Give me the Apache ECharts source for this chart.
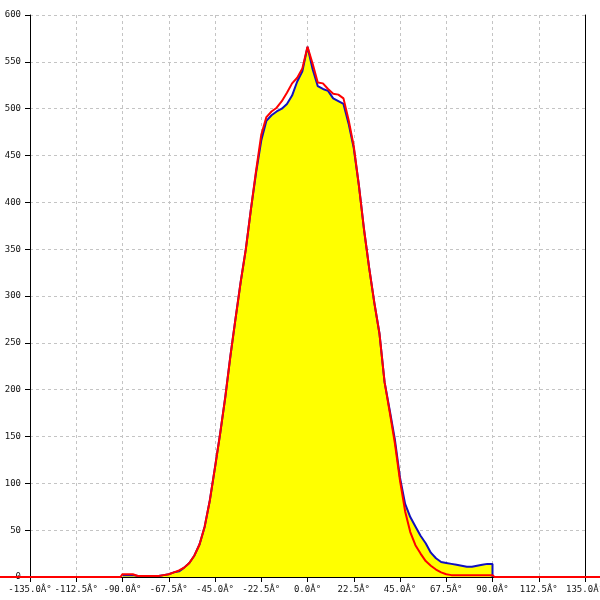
<!DOCTYPE html>
<html><head><meta charset="utf-8">
<script src="https://cdn.jsdelivr.net/npm/echarts@6/dist/echarts.min.js"></script>
<style>html,body{margin:0;padding:0;background:#fff}#c{width:600px;height:600px}</style>
</head><body><div id="c"></div>
<script>
// x ticks (degrees) and their labels as printed in the original (mojibake kept)
const xTickLabels = ['-135.0Â°','-112.5Â°','-90.0Â°','-67.5Â°','-45.0Â°','-22.5Â°','0.0Â°','22.5Â°','45.0Â°','67.5Â°','90.0Â°','112.5Â°','135.0Â°'];
const xTickValues = [-135,-112.5,-90,-67.5,-45,-22.5,0,22.5,45,67.5,90,112.5,135];

// blue measured curve (filled yellow underneath)
const blueAngles = [-90,-87.5,-85,-82.5,-80,-77.5,-75,-72.5,-70,-67.5,-65,-62.5,-60,-57.5,-55,-52.5,-50,-47.5,-45,-42.5,-40,-37.5,-35,-32.5,-30,-27.5,-25,-22.5,-20,-17.5,-15,-12.5,-10,-7.5,-5,-2.5,0,2.5,5,7.5,10,12.5,15,17.5,20,22.5,25,27.5,30,32.5,35,37.5,40,42.5,45,47.5,50,52.5,55,57.5,60,62.5,65,67.5,70,72.5,75,77.5,80,82.5,85,87.5,90,90];
const blueValues = [2,2,2,1,1,1,1,1,2,3,5,6,10,15,23,35,54,82,117,153,192,236,276,315,350,393,432,466,487,493,497,500,505,514,529,540,566,542,524,521,519,511,508,505,484,458,418,371,330,293,260,208,178,147,106,78,64,54,44,36,26,20,16,15,14,13,12,11,11,12,13,14,14,0];

// red reference curve (runs along 0 across the whole picture)
const redAngles = [-150,-91,-90,-87.5,-85,-82.5,-80,-77.5,-75,-72.5,-70,-67.5,-65,-62.5,-60,-57.5,-55,-52.5,-50,-47.5,-45,-42.5,-40,-37.5,-35,-32.5,-30,-27.5,-25,-22.5,-20,-17.5,-15,-12.5,-10,-7.5,-5,-2.5,0,2.5,5,7.5,10,12.5,15,17.5,20,22.5,25,27.5,30,32.5,35,37.5,40,42.5,45,47.5,50,52.5,55,57.5,60,62.5,65,67.5,70,72.5,75,77.5,80,82.5,85,87.5,90,91,150];
const redValues = [0,0,3,3,3,1,1,1,1,1,2,3,5,7,10,15,23,35,54,82,117,153,192,236,276,315,350,393,434,472,491,497,501,508,517,527,533,543,566,548,528,527,521,516,515,511,488,460,418,371,330,293,260,208,176,143,103,70,48,34,25,17,12,8,5,3,2,2,2,2,2,2,2,2,2,0,0];

const W = 600, GL = 30, GR = 15, GT = 15, GB = 23;
const XMIN = -135, XMAX = 135;
const degPerPx = (XMAX - XMIN) / (W - GL - GR);

const font = 'DejaVu Sans Mono';
const chart = echarts.init(document.getElementById('c'), null, {renderer:'canvas'});
chart.setOption({
  animation: false,
  backgroundColor: '#fff',
  grid: [
    {left: GL, right: GR, top: GT, bottom: GB, containLabel: false, outerBoundsMode: 'none'},
    {left: 0, right: 0, top: GT, bottom: GB, containLabel: false, outerBoundsMode: 'none'}
  ],
  xAxis: [{
    type: 'value', min: XMIN, max: XMAX, interval: 22.5, gridIndex: 0,
    axisLine: {show: true, onZero: false, lineStyle: {color: '#000', width: 1}},
    axisTick: {show: true, length: 5, lineStyle: {color: '#000'}},
    axisLabel: {
      margin: 8, fontFamily: font, fontSize: 9, color: '#111', hideOverlap: false,
      showMinLabel: true, showMaxLabel: true,
      formatter: v => { const i = xTickValues.indexOf(v); return i >= 0 ? xTickLabels[i] : ''; }
    },
    splitLine: {show: true, lineStyle: {color: '#c4c4c4', type: [3, 3], width: 1}}
  }, {
    type: 'value', gridIndex: 1, show: false,
    min: XMIN - GL * degPerPx, max: XMAX + GR * degPerPx,
    splitLine: {show: false}
  }],
  yAxis: [{
    type: 'value', min: 0, max: 600, interval: 50, gridIndex: 0,
    axisLine: {show: true, onZero: false, lineStyle: {color: '#000', width: 1}},
    axisTick: {show: true, length: 5, lineStyle: {color: '#000'}},
    axisLabel: {margin: 9, fontFamily: font, fontSize: 9, color: '#111'},
    splitLine: {show: true, lineStyle: {color: '#c4c4c4', type: [3, 3], width: 1}}
  }, {
    type: 'value', min: 0, max: 600, interval: 50, position: 'right', gridIndex: 0,
    axisLine: {show: true, onZero: false, lineStyle: {color: '#000', width: 1}},
    axisTick: {show: false}, axisLabel: {show: false}, splitLine: {show: false}
  }, {
    type: 'value', min: 0, max: 600, gridIndex: 1, show: false, splitLine: {show: false}
  }],
  series: [{
    type: 'line', name: 'blue', xAxisIndex: 0, yAxisIndex: 0,
    data: blueAngles.map((a, i) => [a, blueValues[i]]),
    showSymbol: false, smooth: false,
    lineStyle: {color: '#1010c0', width: 2},
    areaStyle: {color: '#ffff00', opacity: 1},
    z: 3
  }, {
    type: 'line', name: 'red', xAxisIndex: 1, yAxisIndex: 2,
    data: redAngles.map((a, i) => [a, redValues[i]]),
    showSymbol: false, smooth: false,
    lineStyle: {color: '#ff0000', width: 2},
    z: 4
  }]
});
</script>
</body></html>
